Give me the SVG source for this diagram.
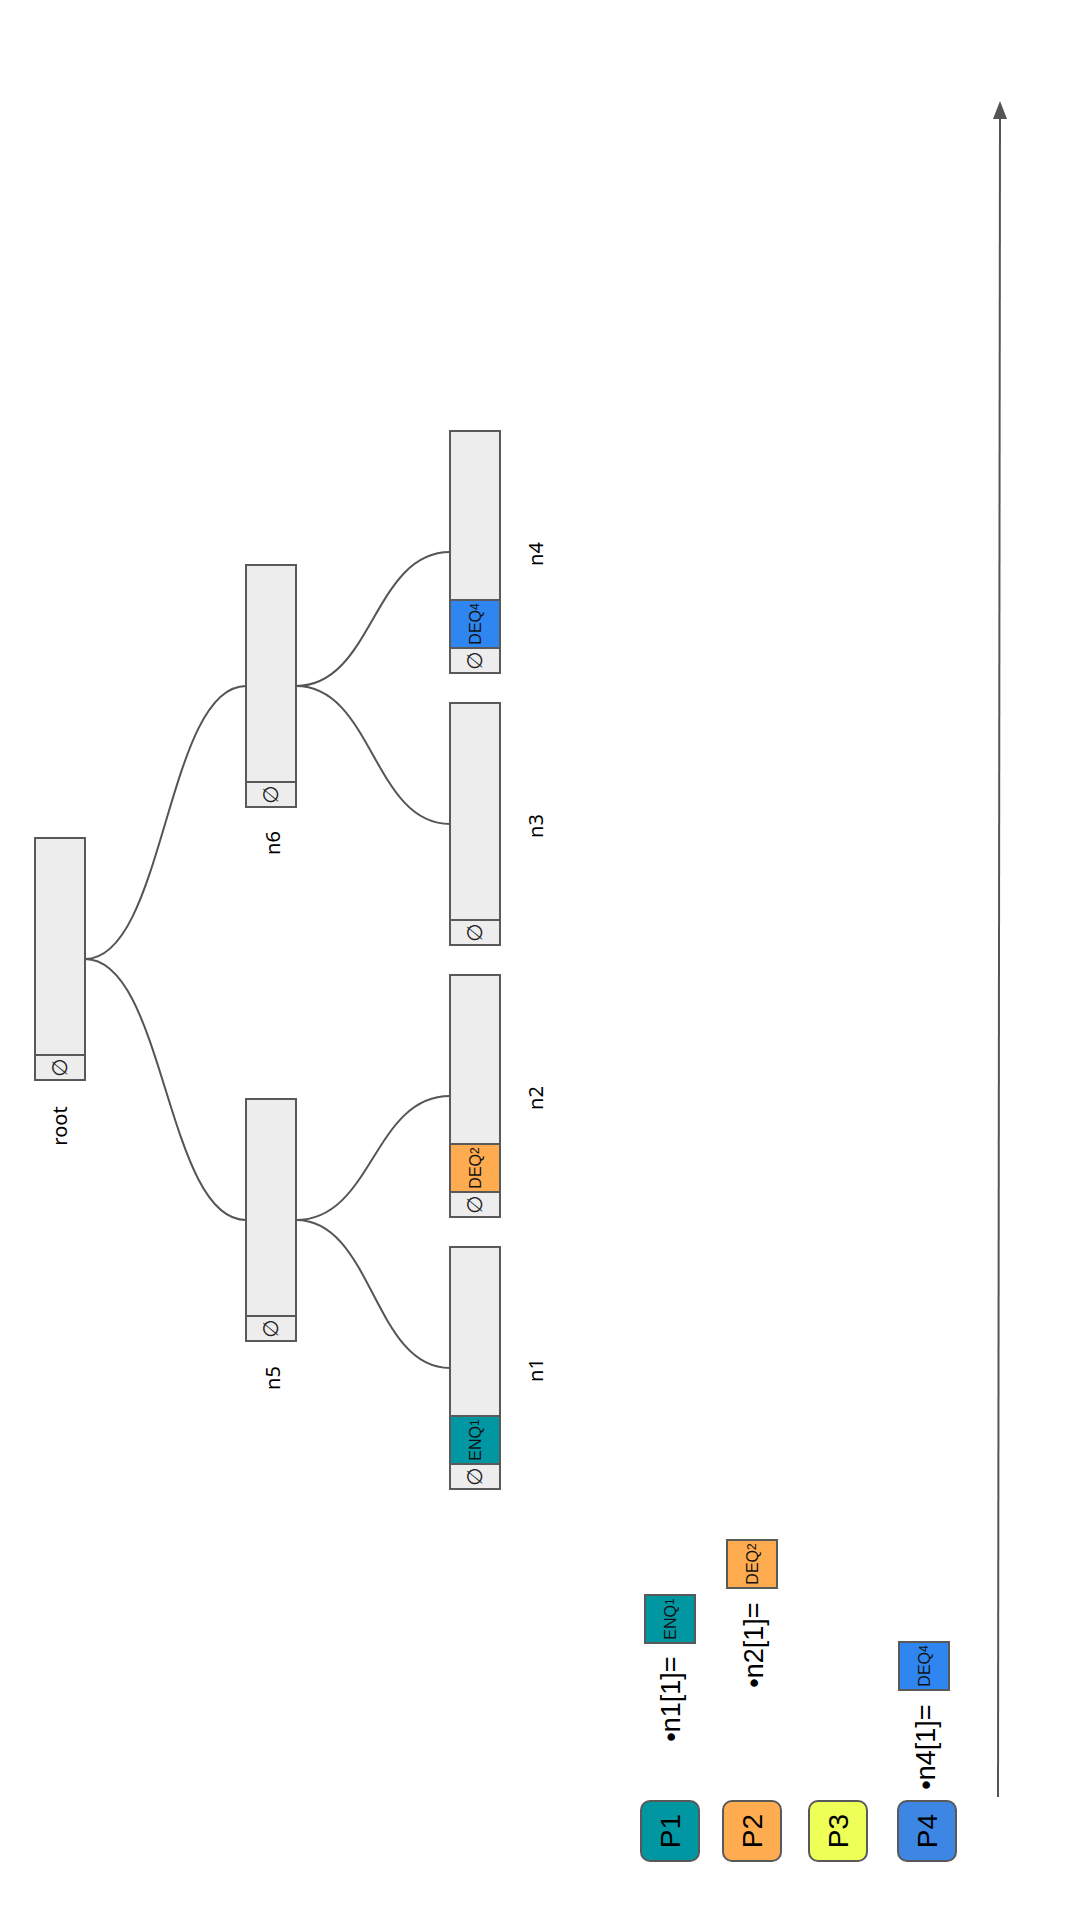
<svg xmlns="http://www.w3.org/2000/svg" width="1080" height="1920" viewBox="0 0 1080 1920">
<style>
.cell{fill:#EDEDED;stroke:#595959;stroke-width:2}
.enq{fill:#0097A3;stroke:#595959;stroke-width:2}
.deq2{fill:#FFAB50;stroke:#595959;stroke-width:2}
.deq4{fill:#2F86F0;stroke:#595959;stroke-width:2}
.lbl{font-family:"Noto Sans","Open Sans",sans-serif;font-size:20px;fill:#000;text-anchor:middle}
.ct{font-family:"Liberation Sans",Arial,sans-serif;font-size:16px;fill:#111;text-anchor:middle}
.nul{font-family:"DejaVu Sans",sans-serif;font-size:21px;fill:#222;text-anchor:middle;dominant-baseline:central}
.leg{font-family:"Liberation Sans",Arial,sans-serif;font-size:27px;fill:#000;text-anchor:middle}
.pt{font-family:"Liberation Sans",Arial,sans-serif;font-size:28px;fill:#000;text-anchor:middle}
.conn{fill:none;stroke:#555;stroke-width:2}
.sup{font-size:12px}
</style>
<rect width="1080" height="1920" fill="#fff"/>

<g id="connectors">
<path class="conn" d="M85,959 C165,959 166,1220 246,1220"/>
<path class="conn" d="M85,959 C165,959 166,686 246,686"/>
<path class="conn" d="M296,1220 C373,1220 373,1368 450,1368"/>
<path class="conn" d="M296,1220 C373,1220 373,1096 450,1096"/>
<path class="conn" d="M296,686 C373,686 373,824 450,824"/>
<path class="conn" d="M296,686 C373,686 373,552 450,552"/>
</g>

<g id="timeline">
<line x1="998" y1="1797" x2="1000" y2="118" stroke="#555" stroke-width="2"/>
<polygon points="1000,101 993,119 1007,119" fill="#555"/>
</g>

<g id="root">
<rect class="cell" x="35" y="838" width="50" height="242"/>
<rect class="cell" x="35" y="1055" width="50" height="25"/>
<text class="nul" transform="translate(60,1067.5) rotate(-90)">∅</text>
<text class="lbl" transform="translate(67,1126) rotate(-90)">root</text>
</g>

<g id="n5">
<rect class="cell" x="246" y="1099" width="50" height="242"/>
<rect class="cell" x="246" y="1316" width="50" height="25"/>
<text class="nul" transform="translate(271,1328.5) rotate(-90)">∅</text>
<text class="lbl" transform="translate(280,1378) rotate(-90)">n5</text>
</g>

<g id="n6">
<rect class="cell" x="246" y="565" width="50" height="242"/>
<rect class="cell" x="246" y="782" width="50" height="25"/>
<text class="nul" transform="translate(271,794.5) rotate(-90)">∅</text>
<text class="lbl" transform="translate(280,843) rotate(-90)">n6</text>
</g>

<g id="n1">
<rect class="cell" x="450" y="1247" width="50" height="242"/>
<rect class="enq" x="450" y="1416" width="50" height="48"/>
<rect class="cell" x="450" y="1464" width="50" height="25"/>
<text class="ct" transform="translate(481,1440) rotate(-90)">ENQ<tspan class="sup" dy="-2.5">1</tspan></text>
<text class="nul" transform="translate(475,1476.5) rotate(-90)">∅</text>
<text class="lbl" transform="translate(543,1370) rotate(-90)">n1</text>
</g>

<g id="n2">
<rect class="cell" x="450" y="975" width="50" height="242"/>
<rect class="deq2" x="450" y="1144" width="50" height="48"/>
<rect class="cell" x="450" y="1192" width="50" height="25"/>
<text class="ct" transform="translate(481,1168) rotate(-90)">DEQ<tspan class="sup" dy="-2.5">2</tspan></text>
<text class="nul" transform="translate(475,1204.5) rotate(-90)">∅</text>
<text class="lbl" transform="translate(543,1098) rotate(-90)">n2</text>
</g>

<g id="n3">
<rect class="cell" x="450" y="703" width="50" height="242"/>
<rect class="cell" x="450" y="920" width="50" height="25"/>
<text class="nul" transform="translate(475,932.5) rotate(-90)">∅</text>
<text class="lbl" transform="translate(543,826) rotate(-90)">n3</text>
</g>

<g id="n4">
<rect class="cell" x="450" y="431" width="50" height="242"/>
<rect class="deq4" x="450" y="600" width="50" height="48"/>
<rect class="cell" x="450" y="648" width="50" height="25"/>
<text class="ct" transform="translate(481,624) rotate(-90)">DEQ<tspan class="sup" dy="-2.5">4</tspan></text>
<text class="nul" transform="translate(475,660.5) rotate(-90)">∅</text>
<text class="lbl" transform="translate(543,554) rotate(-90)">n4</text>
</g>

<g id="legend-n1">
<text class="leg" transform="translate(680,1699) rotate(-90)">•n1[1]=</text>
<rect class="enq" x="645" y="1595" width="50" height="48"/>
<text class="ct" transform="translate(676,1619) rotate(-90)">ENQ<tspan class="sup" dy="-2.5">1</tspan></text>
</g>

<g id="legend-n2">
<text class="leg" transform="translate(763,1645) rotate(-90)">•n2[1]=</text>
<rect class="deq2" x="727" y="1540" width="50" height="48"/>
<text class="ct" transform="translate(758,1564) rotate(-90)">DEQ<tspan class="sup" dy="-2.5">2</tspan></text>
</g>

<g id="legend-n4">
<text class="leg" transform="translate(935,1747) rotate(-90)">•n4[1]=</text>
<rect class="deq4" x="899" y="1642" width="50" height="48"/>
<text class="ct" transform="translate(930,1666) rotate(-90)">DEQ<tspan class="sup" dy="-2.5">4</tspan></text>
</g>

<g id="P1">
<rect x="641" y="1801" width="58" height="60" rx="9" fill="#0097A3" stroke="#595959" stroke-width="2"/>
<text class="pt" transform="translate(680,1831) rotate(-90)">P1</text>
</g>
<g id="P2">
<rect x="723" y="1801" width="58" height="60" rx="9" fill="#FFAB50" stroke="#595959" stroke-width="2"/>
<text class="pt" transform="translate(762,1831) rotate(-90)">P2</text>
</g>
<g id="P3">
<rect x="809" y="1801" width="58" height="60" rx="9" fill="#EEFF58" stroke="#595959" stroke-width="2"/>
<text class="pt" transform="translate(848,1831) rotate(-90)">P3</text>
</g>
<g id="P4">
<rect x="898" y="1801" width="58" height="60" rx="9" fill="#3D86E3" stroke="#595959" stroke-width="2"/>
<text class="pt" transform="translate(937,1831) rotate(-90)">P4</text>
</g>
</svg>
